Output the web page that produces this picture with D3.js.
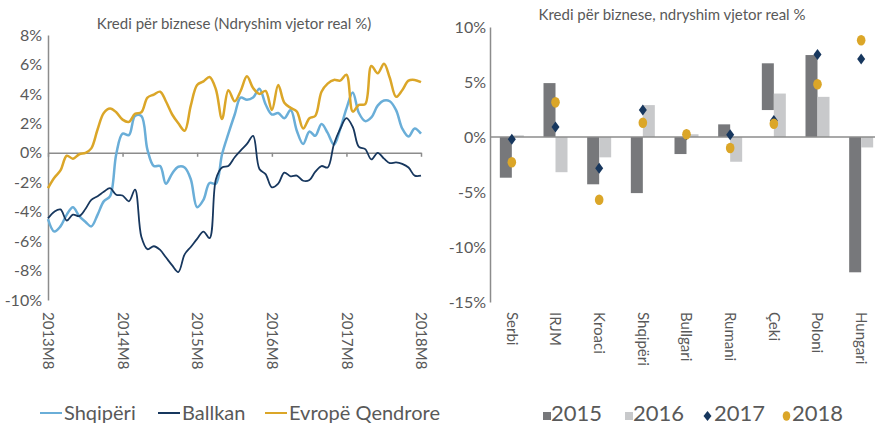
<!DOCTYPE html>
<html>
<head>
<meta charset="UTF-8">
<title>Kredi për biznese</title>
<script src="https://cdn.jsdelivr.net/npm/d3@7"></script>
<style>
  body { margin: 0; background: #fff; }
  text { font-family: Lato, "Noto Sans", sans-serif; fill: #595959; }
</style>
</head>
<body>
<div id="chart"></div>
<script>
// left chart: monthly series 2013M8 .. 2018M8
var startMonth = new Date(2013, 7, 1);
var yearTicks = ["2013M8", "2014M8", "2015M8", "2016M8", "2017M8", "2018M8"];
var seriesNames = ["Shqipëri", "Ballkan", "Evropë Qendrore"];

var shqiperi = [-4.5, -5.35, -5.0, -4.2, -3.7, -4.3, -4.7, -5.0, -4.2, -3.3, -2.95, -0.1, 1.3, 1.2, 2.5, 2.5,
  0.2, -0.9, -0.9, -2.1, -1.4, -0.95, -1.0, -1.8, -3.7, -3.2, -2.05, -2.1, -0.1, 1.3, 2.6, 3.75, 3.6, 3.75,
  4.35, 3.3, 2.6, 2.7, 2.35, 2.9, 1.5, 0.6, 1.45, 1.15, 1.95, 1.35, 0.55, 1.6, 3.0, 4.1, 2.7, 2.15, 2.4,
  3.2, 3.55, 3.5, 2.9, 1.65, 1.1, 1.65, 1.3];
var ballkan = [-4.45, -4.0, -3.85, -4.6, -4.2, -4.3, -3.8, -3.2, -2.95, -2.65, -2.4, -2.85, -2.9, -3.3, -2.5,
  -5.7, -6.55, -6.35, -6.6, -7.1, -7.65, -8.1, -6.9, -6.4, -5.85, -5.35, -5.8, -1.8, -1.0, -0.9, -0.3, 0.15,
  0.6, 1.15, -1.1, -1.45, -2.35, -2.1, -1.35, -1.6, -1.55, -1.9, -1.85, -1.3, -0.9, -1.0, 0.6, 1.6, 2.35,
  1.75, 0.4, 0.25, -0.45, 0.0, -0.4, -0.7, -0.65, -0.75, -1.0, -1.55, -1.55];
var evropeQendrore = [-2.4, -1.7, -1.2, -0.2, -0.4, -0.1, 0.0, 0.3, 1.6, 2.7, 3.0, 2.75, 2.25, 2.1, 2.65, 2.75,
  3.75, 3.95, 4.15, 3.5, 2.6, 2.0, 1.5, 3.2, 4.6, 4.85, 5.15, 4.3, 2.3, 4.25, 3.5, 4.2, 5.2, 4.4, 4.0, 4.2,
  2.9, 4.6, 3.4, 3.05, 2.8, 1.65, 2.35, 2.5, 4.15, 4.7, 4.95, 4.9, 5.3, 2.8, 3.25, 3.3, 5.9, 5.4, 6.05, 5.1,
  3.8, 4.25, 4.9, 4.95, 4.8];

// right chart: countries by year
var countries = ["Serbi", "IRJM", "Kroaci", "Shqipëri", "Bullgari", "Rumani", "Çeki", "Poloni", "Hungari"];
var years = ["2015", "2016", "2017", "2018"];
var v2015 = [-3.7, 4.9, -4.3, -5.1, -1.55, 1.15, 6.7, 7.45, -12.3];
var base2015 = [0, 0, 0, 0, 0, 0, 2.45, 0, 0];
var v2016 = [0.15, -3.2, -1.85, 2.9, 0.25, -2.25, 3.95, 3.65, -0.95];
var v2017 = [-0.2, 0.9, -2.85, 2.45, 0.2, 0.2, 1.5, 7.5, 7.1];
var v2018 = [-2.3, 3.15, -5.7, 1.3, 0.25, -1.0, 1.2, 4.8, 8.8];

var colors = { shq: "#6aaed8", bal: "#17375e", evq: "#dba628", y15: "#77787b", y16: "#c8c9cb" };

var svg = d3.select("#chart").append("svg")
  .attr("width", 875).attr("height", 429);

// ---------- left line chart ----------
var months = shqiperi.map(function (d, i) { return d3.timeMonth.offset(startMonth, i); });
var x = d3.scaleTime().domain([months[0], months[months.length - 1]]).range([48, 421]);
var y = d3.scaleLinear().domain([-10, 8]).range([300, 35]);
var augusts = yearTicks.map(function (d, i) { return d3.timeMonth.offset(startMonth, 12 * i); });

var left = svg.append("g");

left.append("text").attr("x", 234).attr("y", 29).attr("text-anchor", "middle")
  .style("font-size", "15px").text("Kredi për biznese (Ndryshim vjetor real %)");

var yAxisL = left.append("g").attr("transform", "translate(48,0)")
  .call(d3.axisLeft(y).tickValues(d3.range(-10, 9, 2)).tickSize(0).tickPadding(6)
    .tickFormat(function (d) { return d + "%"; }));
yAxisL.select(".domain").attr("stroke", "#8c8c8c").attr("stroke-width", 1.5);
yAxisL.selectAll("text").style("font-size", "16px").style("fill", "#595959").attr("font-family", null);

var xAxisL = left.append("g").attr("transform", "translate(0," + y(0) + ")")
  .call(d3.axisBottom(x).tickValues(augusts).tickSize(4).tickSizeOuter(0).tickFormat(""));
xAxisL.selectAll("path, line").attr("stroke", "#8c8c8c").attr("stroke-width", 1.5);

var xLabelsL = left.append("g").attr("transform", "translate(0,312)")
  .call(d3.axisBottom(x).tickValues(augusts).tickSize(0)
    .tickFormat(function (d, i) { return yearTicks[i]; }));
xLabelsL.select(".domain").remove();
xLabelsL.selectAll("text")
  .attr("y", 0).attr("dy", "0.35em").attr("x", 0)
  .attr("transform", "rotate(90)")
  .style("text-anchor", "start").style("font-size", "15px").style("fill", "#595959").attr("font-family", null);

var line = d3.line()
  .x(function (d, i) { return x(months[i]); })
  .y(function (d) { return y(d); })
  .curve(d3.curveCatmullRom.alpha(0.5));

left.append("path").datum(shqiperi).attr("d", line)
  .attr("fill", "none").attr("stroke", colors.shq).attr("stroke-width", 2.5);
left.append("path").datum(ballkan).attr("d", line)
  .attr("fill", "none").attr("stroke", colors.bal).attr("stroke-width", 1.8);
left.append("path").datum(evropeQendrore).attr("d", line)
  .attr("fill", "none").attr("stroke", colors.evq).attr("stroke-width", 2.5);

// left legend
var legL = [{ name: seriesNames[0], c: colors.shq, x: 40 },
            { name: seriesNames[1], c: colors.bal, x: 158 },
            { name: seriesNames[2], c: colors.evq, x: 265 }];
var lg = left.selectAll(".leg").data(legL).enter().append("g")
  .attr("transform", function (d) { return "translate(" + d.x + ",413)"; });
lg.append("line").attr("x1", 0).attr("x2", 22).attr("y1", 0).attr("y2", 0)
  .attr("stroke", function (d) { return d.c; }).attr("stroke-width", 2);
lg.append("text").attr("x", 24).attr("y", 7).style("font-size", "20px")
  .text(function (d) { return d.name; });

// ---------- right bar chart ----------
var xb = d3.scaleBand().domain(countries).range([490, 883]).padding(0);
var yb = d3.scaleLinear().domain([-15, 10]).range([302, 27]);
var barW = 12;

var right = svg.append("g");

right.append("text").attr("x", 672).attr("y", 20).attr("text-anchor", "middle")
  .style("font-size", "15px").text("Kredi për biznese, ndryshim vjetor real %");

var yAxisR = right.append("g").attr("transform", "translate(490,0)")
  .call(d3.axisLeft(yb).tickValues([-15, -10, -5, 0, 5, 10]).tickSize(0).tickPadding(4)
    .tickFormat(function (d) { return d + "%"; }));
yAxisR.select(".domain").attr("stroke", "#8c8c8c").attr("stroke-width", 1.5);
yAxisR.selectAll("text").style("font-size", "16px").style("fill", "#595959").attr("font-family", null);

var xLabelsR = right.append("g").attr("transform", "translate(0,312)")
  .call(d3.axisBottom(xb).tickSize(0));
xLabelsR.select(".domain").remove();
xLabelsR.selectAll("text")
  .attr("y", 0).attr("dy", "0.35em").attr("x", 0)
  .attr("transform", "rotate(90)")
  .style("text-anchor", "start").style("font-size", "15px").style("fill", "#595959").attr("font-family", null);

var barData = countries.map(function (c, i) {
  return { c: c, a: v2015[i], b: base2015[i], l: v2016[i], d: v2017[i], o: v2018[i] };
});

right.selectAll(".b15").data(barData).enter().append("rect")
  .attr("x", function (d) { return xb(d.c) + xb.bandwidth() / 2 - barW; })
  .attr("width", barW)
  .attr("y", function (d) { return yb(Math.max(d.a, d.b)); })
  .attr("height", function (d) { return Math.abs(yb(d.a) - yb(d.b)); })
  .attr("fill", colors.y15);

right.selectAll(".b16").data(barData).enter().append("rect")
  .attr("x", function (d) { return xb(d.c) + xb.bandwidth() / 2; })
  .attr("width", barW)
  .attr("y", function (d) { return yb(Math.max(d.l, 0)); })
  .attr("height", function (d) { return Math.abs(yb(d.l) - yb(0)); })
  .attr("fill", colors.y16);

// zero line
right.append("line").attr("x1", 490).attr("x2", 883).attr("y1", yb(0)).attr("y2", yb(0))
  .attr("stroke", "#8c8c8c").attr("stroke-width", 1.5);

var diamond = "M0,-5.5L4,0L0,5.5L-4,0Z";
right.selectAll(".d17").data(barData).enter().append("path")
  .attr("d", diamond)
  .attr("transform", function (d) { return "translate(" + (xb(d.c) + xb.bandwidth() / 2) + "," + yb(d.d) + ")"; })
  .attr("fill", colors.bal);

right.selectAll(".c18").data(barData).enter().append("ellipse")
  .attr("cx", function (d) { return xb(d.c) + xb.bandwidth() / 2; })
  .attr("cy", function (d) { return yb(d.o); })
  .attr("rx", 4.3).attr("ry", 5.3)
  .attr("fill", colors.evq);

// right legend
var legR = right.append("g");
legR.append("rect").attr("x", 543).attr("y", 412).attr("width", 8).attr("height", 8).attr("fill", colors.y15);
legR.append("text").attr("x", 551).attr("y", 421).style("font-size", "22px").text(years[0]);
legR.append("rect").attr("x", 625).attr("y", 412).attr("width", 8).attr("height", 8).attr("fill", colors.y16);
legR.append("text").attr("x", 633).attr("y", 421).style("font-size", "22px").text(years[1]);
legR.append("path").attr("d", "M0,-5L4,0L0,5L-4,0Z").attr("transform", "translate(707.5,416)").attr("fill", colors.bal);
legR.append("text").attr("x", 714).attr("y", 421).style("font-size", "22px").text(years[2]);
legR.append("ellipse").attr("cx", 786.5).attr("cy", 416).attr("rx", 3.8).attr("ry", 4.8).attr("fill", colors.evq);
legR.append("text").attr("x", 792).attr("y", 421).style("font-size", "22px").text(years[3]);
</script>
</body>
</html>
